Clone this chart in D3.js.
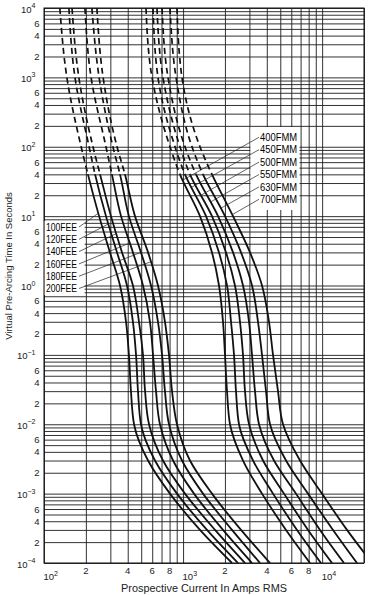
<!DOCTYPE html>
<html>
<head>
<meta charset="utf-8">
<script src="https://cdn.jsdelivr.net/npm/d3@7"></script>
<style>
  body { margin: 0; background: #fff; }
  svg { display: block; font-family: "Liberation Sans", Arial, sans-serif; }
</style>
</head>
<body>
<svg id="chart" width="374" height="595"></svg>
<script>
const times = [1e4, 1e3, 100, 40, 10, 3, 1, 0.3, 0.1, 0.03, 0.01, 0.003, 0.001, 3e-4, 1e-4]
const dashAbove = 40   // curves are dashed above this time

// FEE fuses - prospective current (A) at each time level
const feeNames = ['100FEE', '120FEE', '140FEE', '160FEE', '180FEE', '200FEE']
const fee100 = [130, 146, 185, 207, 249, 298, 352, 389, 408, 422, 444, 560, 805, 1323, 2248]
const fee120 = [151, 167, 211, 233, 279, 335, 395, 436, 459, 474, 498, 628, 904, 1486, 2483]
const fee140 = [159, 178, 225, 253, 303, 364, 436, 482, 515, 533, 569, 717, 1032, 1697, 2788]
const fee160 = [197, 218, 279, 308, 358, 436, 515, 578, 608, 639, 682, 847, 1198, 1937, 3131]
const fee180 = [221, 249, 313, 352, 408, 498, 588, 660, 706, 741, 792, 982, 1391, 2248, 3575]
const fee200 = [240, 266, 335, 382, 451, 560, 660, 741, 792, 833, 904, 1121, 1614, 2610, 4219]

// FMM fuses
const fmmNames = ['400FMM', '450FMM', '500FMM', '550FMM', '630FMM', '700FMM']
const fmm400 = [541, 598, 805, 950, 1323, 1614, 1813, 1937, 2002, 2070, 2175, 2698, 3695, 5498, 8181]
const fmm450 = [608, 660, 875, 1032, 1462, 1813, 2070, 2212, 2324, 2402, 2524, 3184, 4433, 6595, 9813]
const fmm500 = [649, 717, 950, 1121, 1614, 2035, 2362, 2566, 2698, 2788, 2980, 3757, 5320, 7914, 11780]
const fmm550 = [706, 779, 1032, 1239, 1784, 2286, 2698, 2980, 3131, 3290, 3516, 4507, 6486, 9651, 14360]
const fmm630 = [805, 890, 1159, 1391, 2002, 2610, 3131, 3458, 3695, 3948, 4219, 5498, 7914, 11970, 17810]
const fmm700 = [904, 982, 1323, 1614, 2286, 3029, 3695, 4149, 4433, 4815, 5232, 6931, 9977, 15090, 22840]

// where each label's leader meets its curve (time, s)
const feeLeaderTimes = [11, 7.7, 5.6, 4.1, 3.0, 2.2]
const fmmLeaderTimes = [33, 26, 20, 16, 13, 10.5]

// tick labels
const xLabelValues = [100, 200, 400, 600, 800, 1000, 2000, 4000, 6000, 8000, 10000]
const xLabelText = ['10|2', '2', '4', '6', '8', '10|3', '2', '4', '6', '8', '10|4']
const yDecades = [4, 3, 2, 1, 0, -1, -2, -3, -4]
const yMinorLabels = [6, 4, 2]

let svg = d3.select('#chart')
let pLeft = 44, pRight = 364, pTop = 8, pBottom = 563

let x = d3.scaleLog().domain([100, 20000]).range([pLeft, pRight])
let y = d3.scaleLog().domain([1e-4, 1e4]).range([pBottom, pTop])

// grid values: 1..9 in every decade
let xGrid = [], yGrid = []
for (let e = 2; e <= 4; e++)
  for (let d = 1; d <= 9; d++) if (d * 10 ** e <= 20000) xGrid.push(d * 10 ** e)
for (let e = -4; e <= 4; e++)
  for (let d = 1; d <= 9; d++) if (d * 10 ** e <= 1e4 * 1.0001) yGrid.push(+(d * 10 ** e).toPrecision(3))

let grid = svg.append('g')
grid.append('g')
  .attr('transform', `translate(0,${pBottom})`)
  .call(d3.axisBottom(x).tickValues(xGrid).tickSize(-(pBottom - pTop)).tickFormat(''))
  .call(g => g.select('.domain').remove())
grid.append('g')
  .attr('transform', `translate(${pLeft},0)`)
  .call(d3.axisLeft(y).tickValues(yGrid).tickSize(-(pRight - pLeft)).tickFormat(''))
  .call(g => g.select('.domain').remove())
grid.selectAll('line').attr('stroke', '#1c1c1c').attr('stroke-width', 0.9)

svg.append('rect')
  .attr('x', pLeft).attr('y', pTop)
  .attr('width', pRight - pLeft).attr('height', pBottom - pTop)
  .attr('fill', 'none').attr('stroke', '#111').attr('stroke-width', 1)

// white boxes behind the label groups
svg.append('rect').attr('x', pLeft + 0.6).attr('y', 221).attr('width', 40).attr('height', 74).attr('fill', '#fff')
svg.append('rect').attr('x', 250.5).attr('y', 127).attr('width', 49).attr('height', 83).attr('fill', '#fff')

// clips: dashed part above dashAbove, solid part below
let defs = svg.append('defs')
defs.append('clipPath').attr('id', 'clipTop').append('rect')
  .attr('x', pLeft).attr('y', pTop).attr('width', pRight - pLeft).attr('height', y(dashAbove) - pTop)
defs.append('clipPath').attr('id', 'clipBot').append('rect')
  .attr('x', pLeft).attr('y', y(dashAbove)).attr('width', pRight - pLeft).attr('height', pBottom - y(dashAbove))

let series = [fee100, fee120, fee140, fee160, fee180, fee200, fmm400, fmm450, fmm500, fmm550, fmm630, fmm700]
  .map(vals => vals.map((v, i) => [v, times[i]]))

let line = d3.line()
  .x(d => x(d[0]))
  .y(d => y(d[1]))
  .curve(d3.curveMonotoneY)

svg.append('g').attr('clip-path', 'url(#clipTop)')
  .selectAll('path').data(series).enter().append('path')
  .attr('d', line)
  .attr('fill', 'none').attr('stroke', '#111').attr('stroke-width', 1.7)
  .attr('stroke-dasharray', '6,4')

svg.append('g').attr('clip-path', 'url(#clipBot)')
  .selectAll('path').data(series).enter().append('path')
  .attr('d', line)
  .attr('fill', 'none').attr('stroke', '#111').attr('stroke-width', 1.8)

// current on a curve at a given time (log-log interpolation)
function currentAt(vals, t) {
  for (let i = 0; i < times.length - 1; i++) {
    if (t <= times[i] && t >= times[i + 1]) {
      let f = (Math.log(t) - Math.log(times[i])) / (Math.log(times[i + 1]) - Math.log(times[i]))
      return Math.exp(Math.log(vals[i]) + f * (Math.log(vals[i + 1]) - Math.log(vals[i])))
    }
  }
  return vals[0]
}

let labelFont = 10
// FEE labels on the left
let feeVals = [fee100, fee120, fee140, fee160, fee180, fee200]
feeNames.forEach((name, i) => {
  let my = 227 + i * 12.3
  let t = feeLeaderTimes[i]
  svg.append('line')
    .attr('x1', 79).attr('y1', my)
    .attr('x2', x(currentAt(feeVals[i], t))).attr('y2', y(t))
    .attr('stroke', '#222').attr('stroke-width', 0.7)
  svg.append('text')
    .attr('x', 46).attr('y', my + 3.6)
    .attr('font-size', labelFont)
    .attr('textLength', 31).attr('lengthAdjust', 'spacingAndGlyphs')
    .text(name)
})

// FMM labels on the right
let fmmVals = [fmm400, fmm450, fmm500, fmm550, fmm630, fmm700]
fmmNames.forEach((name, i) => {
  let my = 137.3 + i * 12.4
  let t = fmmLeaderTimes[i]
  svg.append('line')
    .attr('x1', 259).attr('y1', my)
    .attr('x2', x(currentAt(fmmVals[i], t))).attr('y2', y(t))
    .attr('stroke', '#222').attr('stroke-width', 0.7)
  svg.append('text')
    .attr('x', 260).attr('y', my + 3.6)
    .attr('font-size', labelFont)
    .attr('textLength', 37).attr('lengthAdjust', 'spacingAndGlyphs')
    .text(name)
})

// y tick labels
let yl = svg.append('g').attr('font-size', 9.5).attr('fill', '#222')
yDecades.forEach(e => {
  let txt = yl.append('text')
    .attr('x', 35.5).attr('y', y(10 ** e) + 4.5)
    .attr('text-anchor', 'end')
  txt.append('tspan').text('10')
  txt.append('tspan').attr('dy', -4.5).attr('font-size', 7)
    .text(e < 0 ? '\u2212' + (-e) : e)
})
yDecades.slice(0, -1).forEach(e => {
  yMinorLabels.forEach(d => {
    yl.append('text')
      .attr('x', 39.5).attr('y', y(d * 10 ** (e - 1)) + 3.5)
      .attr('text-anchor', 'end')
      .text(d)
  })
})

// x tick labels
let xl = svg.append('g').attr('font-size', 9.5).attr('fill', '#222')
xLabelValues.forEach((v, i) => {
  let parts = xLabelText[i].split('|')
  if (parts.length == 2) {
    let txt = xl.append('text').attr('x', x(v) - 0.5).attr('y', 580)
    txt.append('tspan').text(parts[0])
    txt.append('tspan').attr('dy', -4.5).attr('font-size', 7).text(parts[1])
  } else {
    xl.append('text').attr('x', x(v)).attr('y', 574)
      .attr('text-anchor', 'middle').text(parts[0])
  }
})

// axis titles
svg.append('text')
  .attr('x', 204).attr('y', 592)
  .attr('text-anchor', 'middle').attr('font-size', 10.5).attr('fill', '#222')
  .attr('textLength', 166).attr('lengthAdjust', 'spacingAndGlyphs')
  .text('Prospective Current In Amps RMS')
svg.append('text')
  .attr('transform', 'translate(11.5,266) rotate(-90)')
  .attr('text-anchor', 'middle').attr('font-size', 9.5).attr('fill', '#222')
  .text('Virtual Pre-Arcing Time In Seconds')
</script>
</body>
</html>
